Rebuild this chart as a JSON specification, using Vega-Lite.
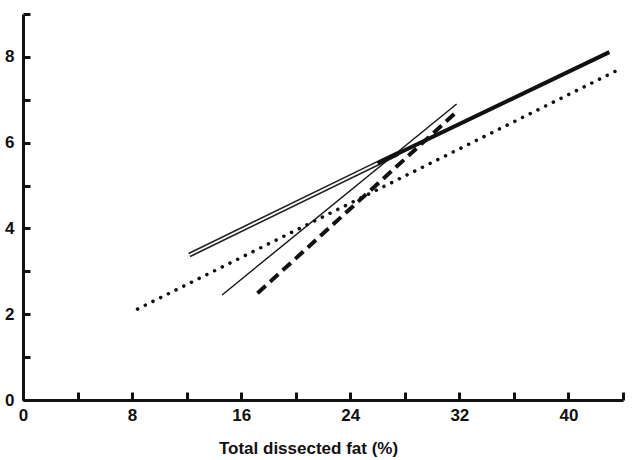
{
  "$schema": "https://vega.github.io/schema/vega-lite/v6.json",
  "width": 600,
  "height": 386,
  "autosize": {"type": "none"},
  "padding": {"left": 23, "top": 14, "right": 9, "bottom": 60},
  "background": "white",
  "config": {"view": {"stroke": null}, "font": "Liberation Sans"},
  "data": {
    "values": [
      {"series": "dotted", "fat": 8.4, "value": 2.12},
      {"series": "dotted", "fat": 43.6, "value": 7.69},
      {"series": "thin", "fat": 14.6, "value": 2.45},
      {"series": "thin", "fat": 31.8, "value": 6.9},
      {"series": "dashed", "fat": 17.2, "value": 2.49},
      {"series": "dashed", "fat": 31.7, "value": 6.69},
      {"series": "double", "fat": 12.2, "value": 3.38},
      {"series": "double", "fat": 27.5, "value": 5.75},
      {"series": "thick", "fat": 26.0, "value": 5.52},
      {"series": "thick", "fat": 43.0, "value": 8.11}
    ]
  },
  "encoding": {
    "x": {
      "field": "fat",
      "type": "quantitative",
      "scale": {"domain": [0, 44], "nice": false, "zero": false},
      "axis": {
        "values": [0, 4, 8, 12, 16, 20, 24, 28, 32, 36, 40, 44],
        "labelExpr": "datum.value % 8 == 0 && datum.value < 44 ? datum.label : ''",
        "grid": false,
        "domainColor": "#111",
        "domainWidth": 3,
        "tickColor": "#111",
        "tickWidth": 3,
        "tickSize": -8,
        "labelFont": "Liberation Sans",
        "labelFontWeight": "bold",
        "labelFontSize": 17,
        "labelColor": "#111",
        "labelPadding": 15,
        "labelFlush": false,
        "labelOverlap": false,
        "title": "Total dissected fat (%)",
        "titleFont": "Liberation Sans",
        "titleFontSize": 17,
        "titleFontWeight": "bold",
        "titleColor": "#111",
        "titleX": 285,
        "titleY": 40
      }
    },
    "y": {
      "field": "value",
      "type": "quantitative",
      "scale": {"domain": [0, 9], "nice": false, "zero": false},
      "axis": {
        "values": [0, 1, 2, 3, 4, 5, 6, 7, 8, 9],
        "labelExpr": "datum.value % 2 == 0 && datum.value < 9 ? datum.label : ''",
        "grid": false,
        "domainColor": "#111",
        "domainWidth": 3,
        "tickColor": "#111",
        "tickWidth": 3,
        "tickSize": -7,
        "labelFont": "Liberation Sans",
        "labelFontWeight": "bold",
        "labelFontSize": 17,
        "labelColor": "#111",
        "labelPadding": 16,
        "labelFlush": false,
        "labelOverlap": false,
        "title": null
      }
    },
    "detail": {"field": "series", "type": "nominal"}
  },
  "layer": [
    {
      "transform": [{"filter": "datum.series == 'dotted'"}],
      "mark": {"type": "line", "color": "#111", "strokeWidth": 3.5, "strokeDash": [0.1, 8.5], "strokeCap": "round"}
    },
    {
      "transform": [{"filter": "datum.series == 'thin'"}],
      "mark": {"type": "line", "color": "#111", "strokeWidth": 1.4}
    },
    {
      "transform": [{"filter": "datum.series == 'dashed'"}],
      "mark": {"type": "line", "color": "#111", "strokeWidth": 4, "strokeDash": [11, 6]}
    },
    {
      "transform": [{"filter": "datum.series == 'double'"}],
      "mark": {"type": "line", "color": "#222", "strokeWidth": 5}
    },
    {
      "transform": [{"filter": "datum.series == 'double'"}],
      "mark": {"type": "line", "color": "white", "strokeWidth": 1.8}
    },
    {
      "transform": [{"filter": "datum.series == 'thick'"}],
      "mark": {"type": "line", "color": "#111", "strokeWidth": 4}
    }
  ]
}
